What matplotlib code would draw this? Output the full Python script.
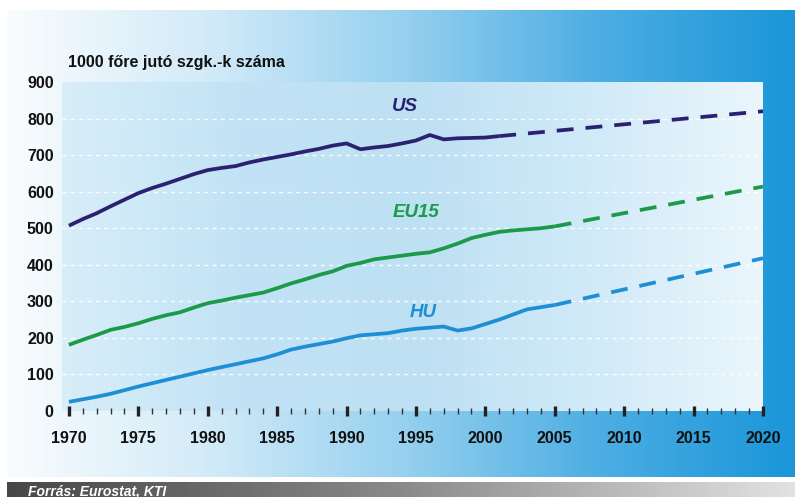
import numpy as np
import matplotlib
matplotlib.use('Agg')
from matplotlib import pyplot as plt
from matplotlib.colors import LinearSegmentedColormap

plt.rcParams['font.family'] = ['Liberation Sans', 'DejaVu Sans']

# Measured series (cars per 1000 inhabitants)
us_years = list(range(1970, 2002))
us_values = [507, 525, 541, 560, 578, 596, 610, 622, 635, 648, 659, 665, 670, 680, 688, 695,
             702, 710, 717, 726, 732, 716, 721, 725, 732, 740, 755, 743, 746, 747, 748, 752]
eu_years = list(range(1970, 2006))
eu_values = [181, 195, 208, 222, 230, 240, 252, 262, 270, 283, 295, 302, 310, 317, 324, 336,
             349, 360, 372, 382, 397, 405, 415, 420, 425, 430, 434, 445, 458, 473, 482, 490,
             494, 497, 500, 505]
hu_years = list(range(1970, 2006))
hu_values = [25, 32, 39, 47, 57, 67, 76, 85, 94, 103, 112, 120, 128, 136, 144, 155,
             168, 176, 183, 190, 199, 207, 210, 213, 220, 225, 228, 231, 220, 226, 238, 250,
             264, 278, 284, 290]

# Projections (dashed)
us_proj_years = [2001, 2020]
us_proj_values = [752, 820]
eu_proj_years = [2005, 2020]
eu_proj_values = [505, 614]
hu_proj_years = [2005, 2020]
hu_proj_values = [290, 418]

y_ticks = list(range(0, 1000, 100))
x_ticks = list(range(1970, 2025, 5))
grid_levels = list(range(100, 900, 100))

US_COL = '#2b2170'
EU_COL = '#1b9a4a'
HU_COL = '#1f8fd5'

W, H = 795, 497
fig = plt.figure(figsize=(W / 100, H / 100), dpi=100)
fig.patch.set_facecolor('white')

# background panels in pixel coordinates
bg = fig.add_axes([0, 0, 1, 1])
bg.set_xlim(0, W)
bg.set_ylim(H, 0)
bg.axis('off')

panel_cmap = LinearSegmentedColormap.from_list(
    'panel', ['#f9fcfe', '#d3ebf8', '#97d1ef', '#4daee3', '#1a96d9'])
grad = np.linspace(0, 1, 256).reshape(1, -1)
bg.imshow(grad, cmap=panel_cmap, extent=(7, W, 477, 10), aspect='auto', zorder=0)

gray_cmap = LinearSegmentedColormap.from_list('gray', ['#474747', '#8a8a8a', '#e2e2e2'])
bg.imshow(grad, cmap=gray_cmap, extent=(7, W, H, 482), aspect='auto', zorder=0)
bg.text(28, 498, 'Forrás: Eurostat, KTI', color='white', fontsize=10,
        fontweight='bold', fontstyle='italic', va='bottom', ha='left')

bg.text(68, 67, '1000 főre jutó szgk.-k száma', color='#111111', fontsize=11.5,
        fontweight='bold', va='baseline', ha='left')

# main plot
ax = fig.add_axes([62 / W, (H - 411) / H, 701 / W, 329 / H])
area_cmap = LinearSegmentedColormap.from_list(
    'area', ['#d8eef9', '#c2e3f5', '#bde0f3', '#d0eaf8', '#ebf6fc'])
ax.imshow(grad, cmap=area_cmap, extent=(0, 1, 0, 1), transform=ax.transAxes,
          aspect='auto', zorder=0)

for lvl in grid_levels:
    ax.axhline(lvl, color='white', lw=1.0, ls=(0, (3, 3)), alpha=0.9, zorder=1)

ax.plot(us_years, us_values, color=US_COL, lw=2.7, zorder=3, solid_capstyle='butt')
ax.plot(eu_years, eu_values, color=EU_COL, lw=2.7, zorder=3, solid_capstyle='butt')
ax.plot(hu_years, hu_values, color=HU_COL, lw=2.7, zorder=3, solid_capstyle='butt')
ax.plot(us_proj_years, us_proj_values, color=US_COL, lw=2.7, ls=(0, (4.5, 3.2)), zorder=3)
ax.plot(eu_proj_years, eu_proj_values, color=EU_COL, lw=2.7, ls=(0, (4.5, 3.2)), zorder=3)
ax.plot(hu_proj_years, hu_proj_values, color=HU_COL, lw=2.7, ls=(0, (4.5, 3.2)), zorder=3)

ax.text(1994.2, 832, 'US', color=US_COL, fontsize=13.5, fontweight='bold',
        fontstyle='italic', ha='center', va='center')
ax.text(1995.0, 542, 'EU15', color=EU_COL, fontsize=13.5, fontweight='bold',
        fontstyle='italic', ha='center', va='center')
ax.text(1995.5, 270, 'HU', color=HU_COL, fontsize=13.5, fontweight='bold',
        fontstyle='italic', ha='center', va='center')

ax.set_xlim(1969.5, 2020)
ax.set_ylim(0, 900)
for s in ax.spines.values():
    s.set_visible(False)
ax.set_yticks(y_ticks)
ax.set_xticks(x_ticks)
ax.set_xticks(range(1970, 2021), minor=True)
ax.tick_params(axis='y', length=0, pad=6, labelsize=11.5, labelcolor='#111111')
ax.tick_params(axis='x', which='major', direction='inout', length=7, width=2.4,
               color='#222222', pad=11, labelsize=11.5, labelcolor='#111111')
ax.tick_params(axis='x', which='minor', direction='inout', length=5, width=1,
               color='#333333')
for lab in ax.get_xticklabels() + ax.get_yticklabels():
    lab.set_fontweight('bold')

plt.savefig('out.png', dpi=100)
